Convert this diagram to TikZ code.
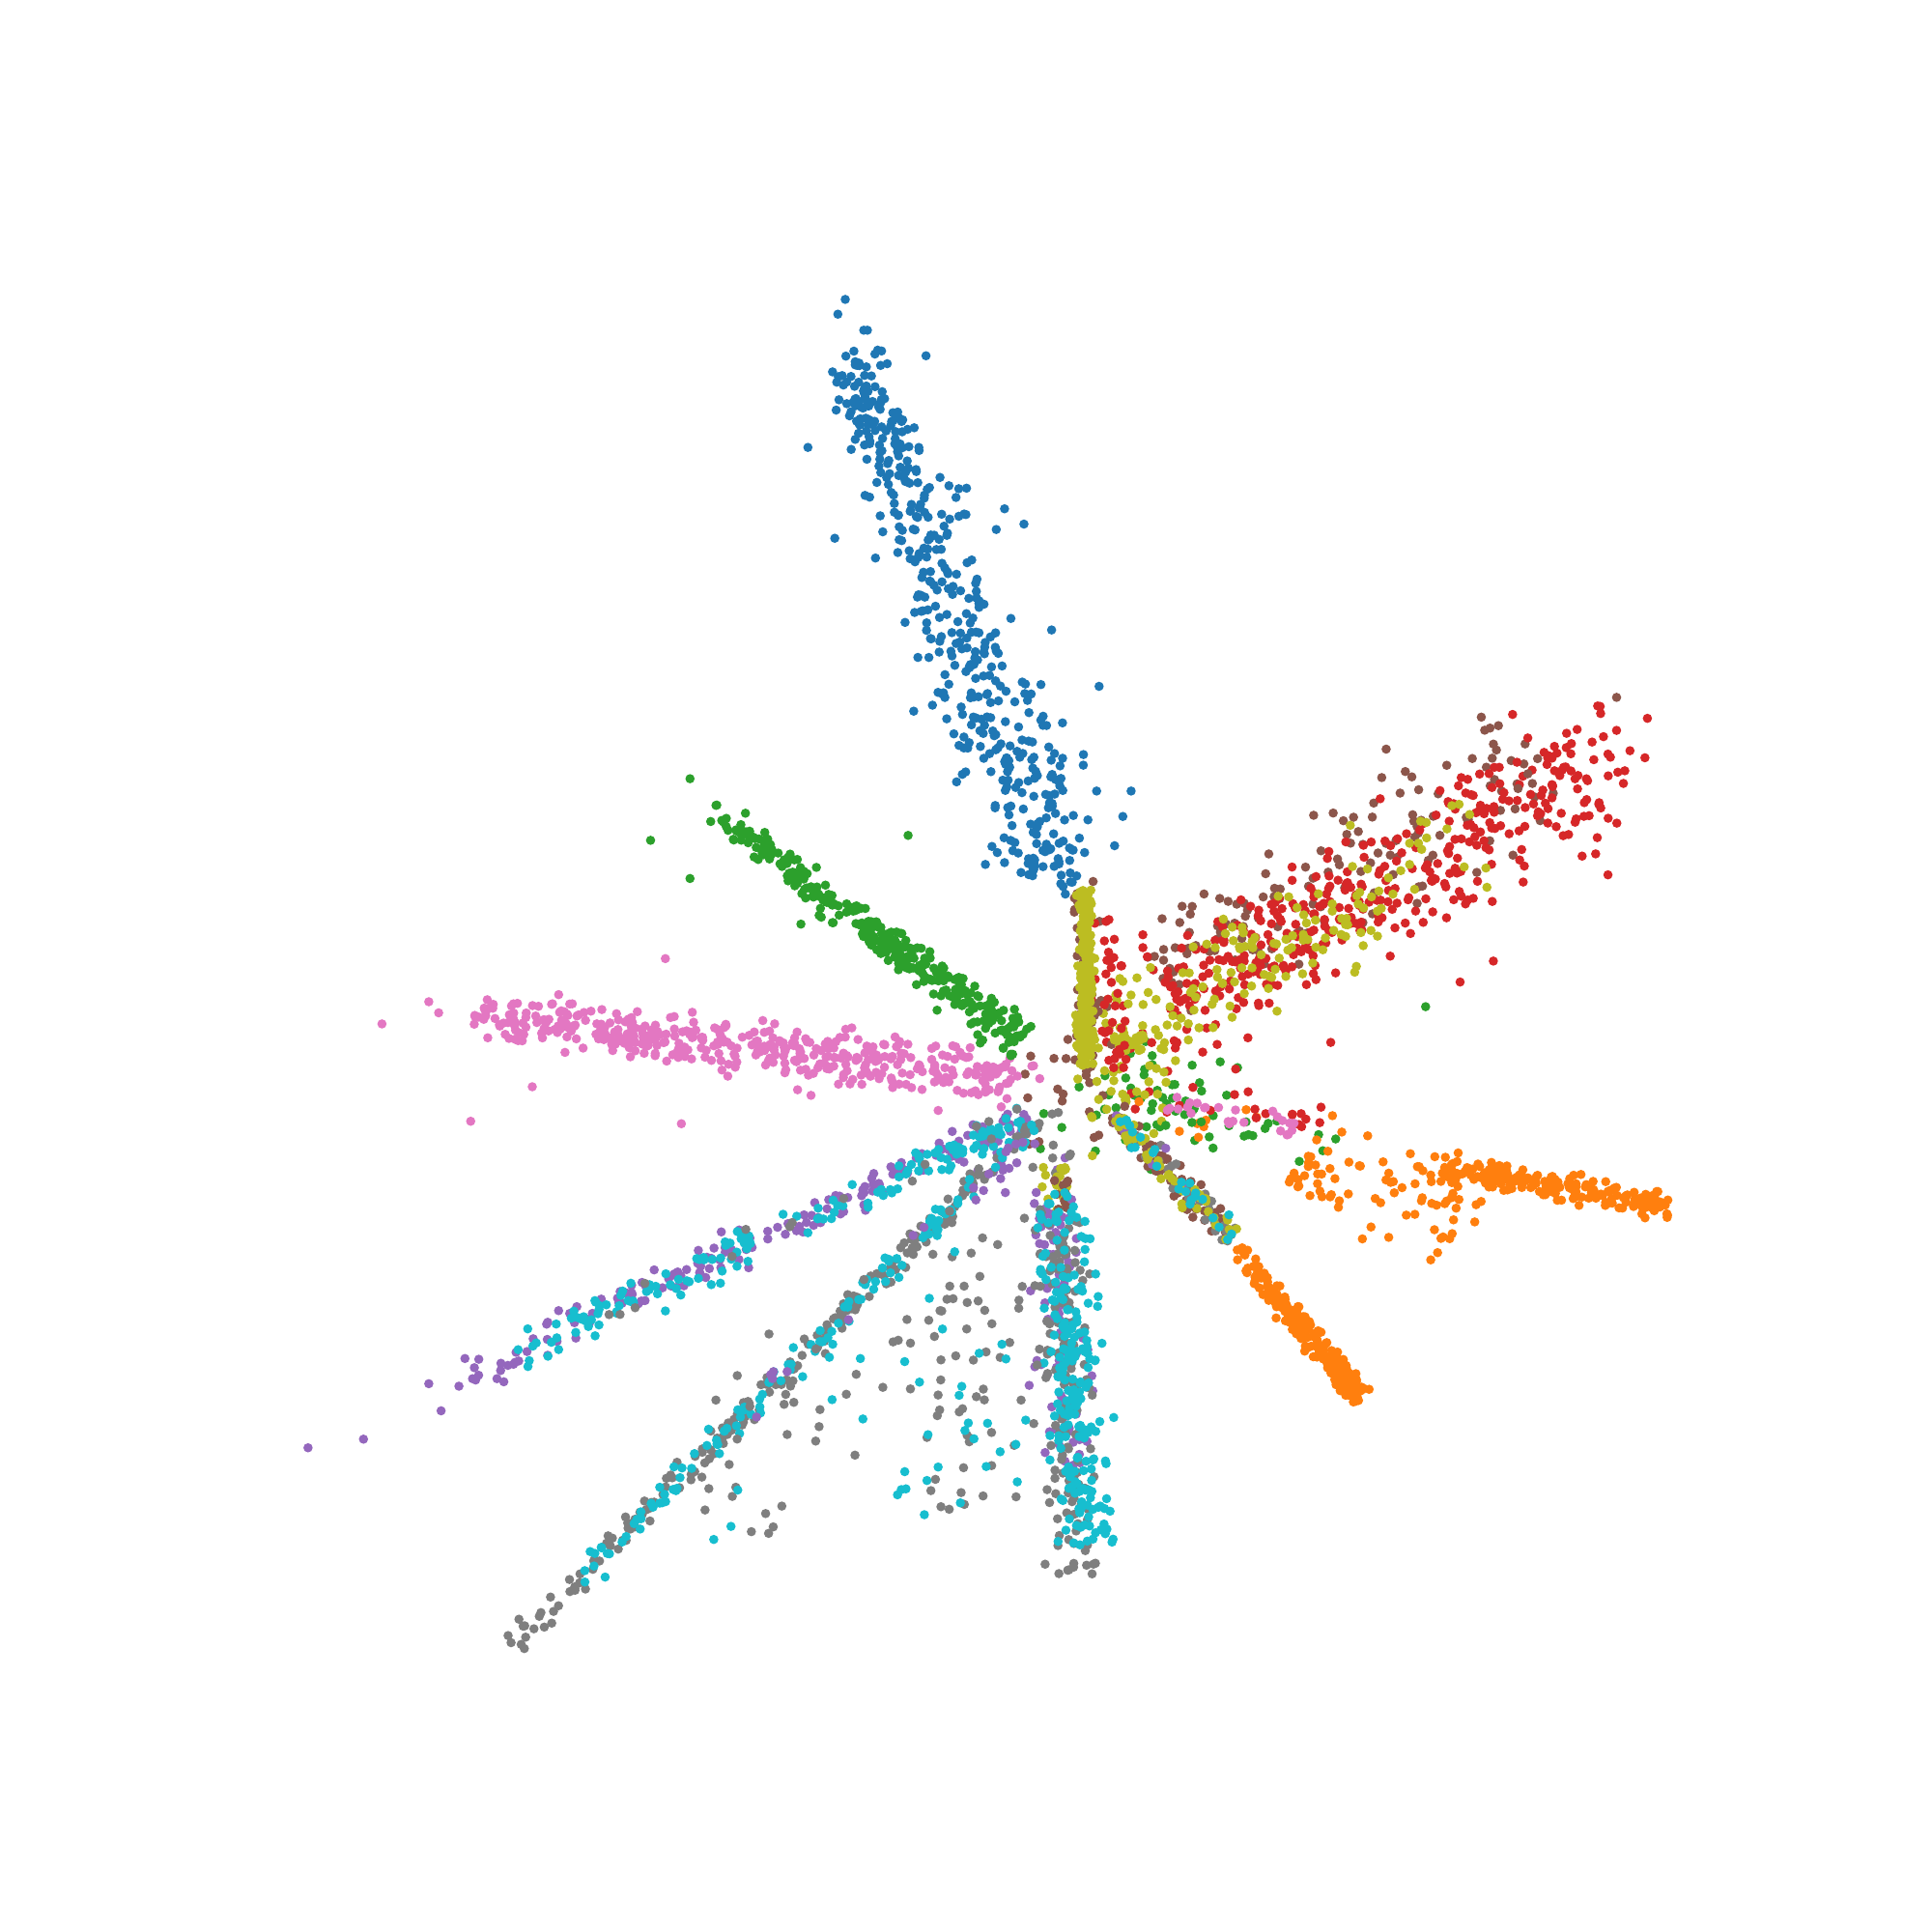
\documentclass[tikz,border=0pt]{standalone}
\definecolor{cB}{HTML}{1F77B4}
\definecolor{cO}{HTML}{FF7F0E}
\definecolor{cG}{HTML}{2CA02C}
\definecolor{cR}{HTML}{D62728}
\definecolor{cP}{HTML}{9467BD}
\definecolor{cBr}{HTML}{8C564B}
\definecolor{cPk}{HTML}{E377C2}
\definecolor{cGy}{HTML}{7F7F7F}
\definecolor{cOl}{HTML}{BCBD22}
\definecolor{cC}{HTML}{17BECF}
\newcommand\dotr{0.048cm}
% ray: colour, N, x0, y0, x1, y1, width at start, width at end, power of t
\newcommand\ray[9]{%
  \pgfmathsetmacro\rdx{(#5)-(#3)}\pgfmathsetmacro\rdy{(#6)-(#4)}%
  \pgfmathsetmacro\rL{veclen(\rdx,\rdy)}%
  \pgfmathsetmacro\rnx{-(\rdy)/\rL}\pgfmathsetmacro\rny{(\rdx)/\rL}%
  \foreach \i in {1,...,#2}{%
    \pgfmathsetmacro\t{(0.001+0.998*rnd)^(#9)}%
    \pgfmathsetmacro\g{(rand+rand+rand)*((#7)+((#8)-(#7))*\t)}%
    \pgfmathsetmacro\px{(#3)+\t*(\rdx)+(\rnx)*(\g)}%
    \pgfmathsetmacro\py{(#4)+\t*(\rdy)+(\rny)*(\g)}%
    \fill[#1] (\px,\py) circle[radius=\dotr];
  }}
% blob: colour, N, cx, cy, sx, sy
\newcommand\blob[6]{%
  \foreach \i in {1,...,#2}{%
    \pgfmathsetmacro\px{(#3)+(#5)*(rand+rand+rand)}%
    \pgfmathsetmacro\py{(#4)+(#6)*(rand+rand+rand)}%
    \fill[#1] (\px,\py) circle[radius=\dotr];
  }}
\newcommand\pts[2]{\foreach \p in {#2}{\fill[#1] \p circle[radius=\dotr];}}
\begin{document}
\begin{tikzpicture}[x=0.0127551cm,y=-0.0127551cm]
\pgfmathsetseed{4242}
\useasboundingbox (0,0) rectangle (1568,1568);
% --- sparse scatter near the centre
\blob{cG}{45}{930}{895}{35}{25}
\blob{cR}{20}{935}{860}{30}{25}
\blob{cBr}{20}{865}{880}{20}{25}
\blob{cP}{20}{815}{945}{22}{14}
\blob{cOl}{30}{915}{885}{25}{22}
\blob{cPk}{12}{825}{870}{15}{8}
\blob{cGy}{10}{860}{925}{15}{15}
\blob{cO}{8}{990}{905}{30}{10}
\ray{cR}{15}{950}{890}{1100}{915}{6}{6}{1}
\ray{cG}{20}{930}{900}{1090}{930}{9}{9}{1}
\ray{cPk}{25}{935}{893}{1060}{915}{4}{5}{1}
% --- blue
\ray{cB}{410}{692}{285}{858}{705}{11}{24}{1}
\ray{cB}{50}{700}{300}{860}{720}{32}{40}{1}
\pts{cB}{(686,243),(680,255),(701,268),(704,268),(693,285),(890,642),(918,642)}
\blob{cB}{12}{866}{712}{5}{10}
% --- green
\ray{cG}{320}{574}{655}{830}{845}{5}{8}{0.75}
\pts{cG}{(560,632),(528,682),(560,713),(650,750),(737,678),(605,660)}
% --- pink
\ray{cPk}{400}{385}{823}{822}{874}{9}{11}{1}
\ray{cPk}{35}{380}{830}{820}{880}{20}{24}{1}
\pts{cPk}{(310,831),(348,813),(356,822),(382,910),(540,778),(553,912),(432,882)}
% --- purple / cyan ray
\ray{cP}{170}{832}{905}{360}{1125}{5}{10}{1.2}
\ray{cC}{150}{832}{905}{420}{1100}{5}{9}{1.0}
\ray{cGy}{15}{832}{905}{480}{1070}{6}{9}{1}
\pts{cP}{(250,1175),(295,1168),(348,1123),(358,1145),(385,1110),(386,1120)}
% --- gray / cyan ray
\ray{cGy}{220}{842}{910}{410}{1340}{4}{6}{1}
\ray{cC}{125}{842}{910}{470}{1282}{4}{6}{0.9}
\ray{cP}{15}{842}{910}{600}{1150}{4}{6}{1}
\ray{cGy}{50}{805}{1000}{560}{1245}{24}{28}{1}
\ray{cC}{14}{805}{1000}{560}{1245}{24}{28}{1}
% --- downward ray
\ray{cOl}{20}{858}{945}{862}{985}{6}{6}{1}
\ray{cBr}{10}{858}{945}{862}{985}{6}{6}{1}
\ray{cP}{90}{850}{960}{865}{1190}{10}{12}{1}
\ray{cGy}{150}{855}{965}{872}{1280}{10}{12}{1}
\ray{cC}{210}{860}{965}{882}{1255}{9}{12}{0.9}
\ray{cGy}{40}{815}{1040}{765}{1235}{25}{30}{1}
\ray{cC}{25}{815}{1040}{765}{1235}{25}{30}{1}
% --- upper right (red, brown, olive)
\ray{cBr}{140}{930}{790}{1250}{618}{22}{26}{1}
\ray{cR}{340}{945}{815}{1290}{625}{21}{27}{1.05}
\ray{cR}{40}{1180}{680}{1320}{600}{22}{24}{1}
\ray{cOl}{170}{905}{845}{1200}{668}{18}{22}{1.5}
\pts{cR}{(1337,583),(1335,615),(1305,612),(1280,592),(1295,693),(1305,710),(1212,780),(1185,797),(1080,846)}
\pts{cBr}{(1312,566),(1125,608),(1232,640),(1240,628)}
\pts{cG}{(1157,817)}
% --- olive vertical
\ray{cBr}{45}{878}{715}{885}{870}{6}{6}{1}
\ray{cR}{35}{900}{745}{905}{870}{8}{6}{1}
\ray{cOl}{230}{881}{722}{881}{865}{3}{3.5}{1}
% --- orange diagonal with mixed inner part
\ray{cBr}{70}{905}{905}{1000}{1005}{5}{5}{1}
\ray{cGy}{30}{905}{905}{1000}{1005}{5}{5}{1}
\ray{cP}{8}{905}{905}{1000}{1005}{5}{5}{1}
\ray{cOl}{50}{905}{905}{1000}{1005}{5}{5}{1.3}
\ray{cC}{25}{905}{905}{1000}{1005}{5}{5}{1}
\ray{cO}{230}{995}{1005}{1105}{1135}{4}{5}{0.55}
% --- orange horizontal
\ray{cO}{80}{1050}{945}{1200}{985}{18}{20}{1}
\ray{cO}{200}{1170}{948}{1355}{980}{6}{5}{1}
\end{tikzpicture}
\end{document}
